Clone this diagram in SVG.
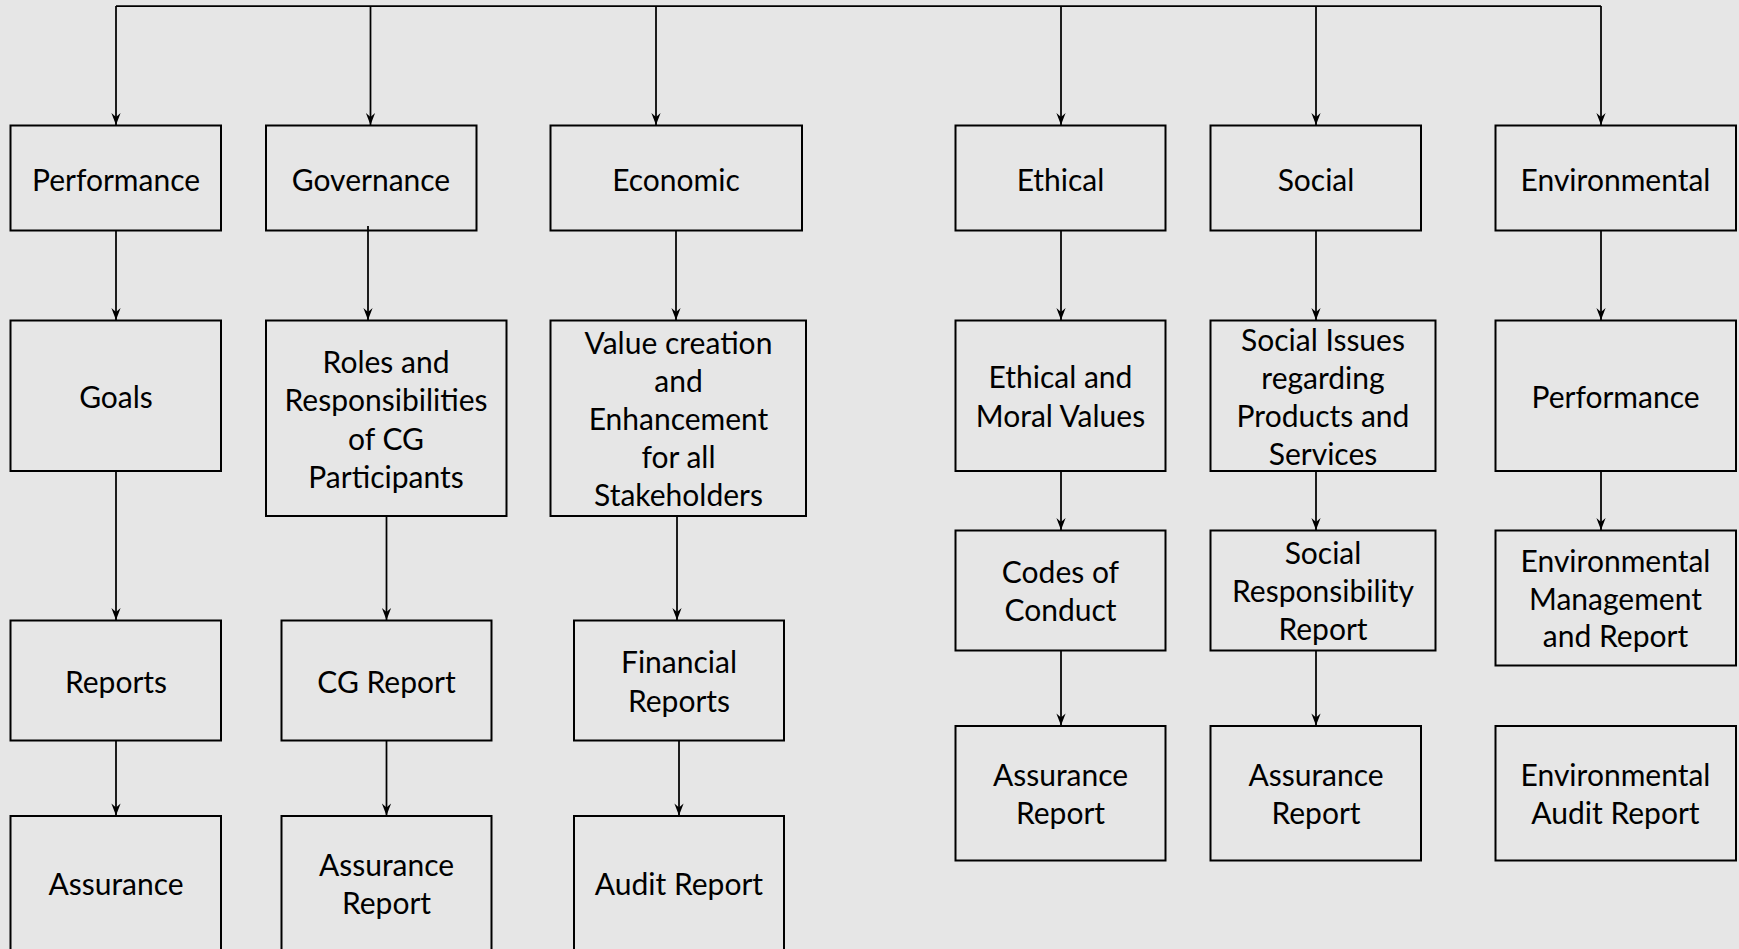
<svg xmlns="http://www.w3.org/2000/svg" width="1739" height="949" viewBox="0 0 1739 949">
  <defs>
    <style>
      .bg { fill: #e6e6e6; }
      .box { fill: none; stroke: #000; stroke-width: 2; }
      .wire { fill: none; stroke: #000; stroke-width: 1.75; }
      .arr { fill: none; stroke: #000; stroke-width: 1.75; marker-end: url(#head); }
      text { font-family: Lato, "Liberation Sans", sans-serif; font-size: 30px; fill: #000; text-anchor: middle; }
    </style>
    <marker id="head" viewBox="-13 -6 14 12" refX="0" refY="0" markerWidth="14" markerHeight="12" markerUnits="userSpaceOnUse" orient="auto">
      <path d="M0,0 L-12,-4.6 L-8,0 L-12,4.6 Z" fill="#000"/>
    </marker>
  </defs>

  <rect class="bg" x="0" y="0" width="1739" height="949"/>

  <!-- connectors -->
  <g id="connectors">
    <path class="wire" d="M116,6 H1601"/>
    <path class="arr" d="M116,6 V125"/>
    <path class="arr" d="M370.5,6 V125"/>
    <path class="arr" d="M656,6 V125"/>
    <path class="arr" d="M1061,6 V125"/>
    <path class="arr" d="M1316,6 V125"/>
    <path class="arr" d="M1601,6 V125"/>

    <path class="arr" d="M116,231 V320"/>
    <path class="arr" d="M116,471 V620"/>
    <path class="arr" d="M116,741 V815.5"/>

    <path class="arr" d="M368,226 V320"/>
    <path class="arr" d="M386.5,516 V620"/>
    <path class="arr" d="M386.5,741 V815.5"/>

    <path class="arr" d="M676,231 V320"/>
    <path class="arr" d="M677,516 V620"/>
    <path class="arr" d="M679,741 V815.5"/>

    <path class="arr" d="M1061,231 V320"/>
    <path class="arr" d="M1061,471 V530"/>
    <path class="arr" d="M1061,651 V725.5"/>

    <path class="arr" d="M1316,231 V320"/>
    <path class="arr" d="M1316,471 V530"/>
    <path class="arr" d="M1316,651 V725.5"/>

    <path class="arr" d="M1601,231 V320"/>
    <path class="arr" d="M1601,471 V530"/>
  </g>

  <!-- top row -->
  <g id="performance">
    <rect class="box" x="10.5" y="125.5" width="210.5" height="105"/>
    <text x="116" y="190.5">Performance</text>
  </g>
  <g id="governance">
    <rect class="box" x="266" y="125.5" width="210.5" height="105"/>
    <text x="371" y="190.5">Governance</text>
  </g>
  <g id="economic">
    <rect class="box" x="550.5" y="125.5" width="251.5" height="105"/>
    <text x="676" y="190.5">Economic</text>
  </g>
  <g id="ethical">
    <rect class="box" x="955.5" y="125.5" width="210" height="105"/>
    <text x="1060.5" y="190.5">Ethical</text>
  </g>
  <g id="social">
    <rect class="box" x="1210.5" y="125.5" width="210.5" height="105"/>
    <text x="1316" y="190.5">Social</text>
  </g>
  <g id="environmental">
    <rect class="box" x="1495.5" y="125.5" width="240.5" height="105"/>
    <text x="1615.5" y="190.5">Environmental</text>
  </g>

  <!-- performance column -->
  <g id="goals">
    <rect class="box" x="10.5" y="320.5" width="210.5" height="150.5"/>
    <text x="116" y="408">Goals</text>
  </g>
  <g id="reports">
    <rect class="box" x="10.5" y="620.5" width="210.5" height="120"/>
    <text x="116" y="693">Reports</text>
  </g>
  <g id="assurance">
    <rect class="box" x="10.5" y="816" width="210.5" height="137"/>
    <text x="116" y="895">Assurance</text>
  </g>

  <!-- governance column -->
  <g id="roles">
    <rect class="box" x="266" y="320.5" width="240.5" height="195.5"/>
    <text x="386" y="372.5"><tspan x="386">Roles and</tspan><tspan x="386" dy="38.5">Responsibilities</tspan><tspan x="386" dy="38.5">of CG</tspan><tspan x="386" dy="38.5">Participants</tspan></text>
  </g>
  <g id="cg-report">
    <rect class="box" x="281.5" y="620.5" width="210" height="120"/>
    <text x="386.5" y="693">CG Report</text>
  </g>
  <g id="cg-assurance">
    <rect class="box" x="281.5" y="816" width="210" height="137"/>
    <text x="386.5" y="875.5"><tspan x="386.5">Assurance</tspan><tspan x="386.5" dy="38.5">Report</tspan></text>
  </g>

  <!-- economic column -->
  <g id="value-creation">
    <rect class="box" x="550.5" y="320.5" width="255.5" height="195.5"/>
    <text x="678.5" y="354"><tspan x="678.5">Value creation</tspan><tspan x="678.5" dy="38">and</tspan><tspan x="678.5" dy="38">Enhancement</tspan><tspan x="678.5" dy="38">for all</tspan><tspan x="678.5" dy="38">Stakeholders</tspan></text>
  </g>
  <g id="financial-reports">
    <rect class="box" x="574" y="620.5" width="210" height="120"/>
    <text x="679" y="673"><tspan x="679">Financial</tspan><tspan x="679" dy="38.5">Reports</tspan></text>
  </g>
  <g id="audit-report">
    <rect class="box" x="574" y="816" width="210" height="137"/>
    <text x="679" y="895">Audit Report</text>
  </g>

  <!-- ethical column -->
  <g id="ethical-values">
    <rect class="box" x="955.5" y="320.5" width="210" height="150.5"/>
    <text x="1060.5" y="388"><tspan x="1060.5">Ethical and</tspan><tspan x="1060.5" dy="38.5">Moral Values</tspan></text>
  </g>
  <g id="codes-of-conduct">
    <rect class="box" x="955.5" y="530.5" width="210" height="120"/>
    <text x="1060.5" y="582.5"><tspan x="1060.5">Codes of</tspan><tspan x="1060.5" dy="38.5">Conduct</tspan></text>
  </g>
  <g id="ethical-assurance">
    <rect class="box" x="955.5" y="726" width="210" height="134.5"/>
    <text x="1060.5" y="785.5"><tspan x="1060.5">Assurance</tspan><tspan x="1060.5" dy="38.5">Report</tspan></text>
  </g>

  <!-- social column -->
  <g id="social-issues">
    <rect class="box" x="1210.5" y="320.5" width="225" height="150.5"/>
    <text x="1323" y="350.5"><tspan x="1323">Social Issues</tspan><tspan x="1323" dy="38.2">regarding</tspan><tspan x="1323" dy="38.2">Products and</tspan><tspan x="1323" dy="38.2">Services</tspan></text>
  </g>
  <g id="social-responsibility">
    <rect class="box" x="1210.5" y="530.5" width="225" height="120"/>
    <text x="1323" y="564"><tspan x="1323">Social</tspan><tspan x="1323" dy="38">Responsibility</tspan><tspan x="1323" dy="38">Report</tspan></text>
  </g>
  <g id="social-assurance">
    <rect class="box" x="1210.5" y="726" width="210.5" height="134.5"/>
    <text x="1316" y="785.5"><tspan x="1316">Assurance</tspan><tspan x="1316" dy="38.5">Report</tspan></text>
  </g>

  <!-- environmental column -->
  <g id="env-performance">
    <rect class="box" x="1495.5" y="320.5" width="240.5" height="150.5"/>
    <text x="1615.5" y="407.5">Performance</text>
  </g>
  <g id="env-management">
    <rect class="box" x="1495.5" y="530.5" width="240.5" height="135"/>
    <text x="1615.5" y="572"><tspan x="1615.5">Environmental</tspan><tspan x="1615.5" dy="37.7">Management</tspan><tspan x="1615.5" dy="37.7">and Report</tspan></text>
  </g>
  <g id="env-audit">
    <rect class="box" x="1495.5" y="726" width="240.5" height="134.5"/>
    <text x="1615.5" y="785.5"><tspan x="1615.5">Environmental</tspan><tspan x="1615.5" dy="38.5">Audit Report</tspan></text>
  </g>
</svg>
